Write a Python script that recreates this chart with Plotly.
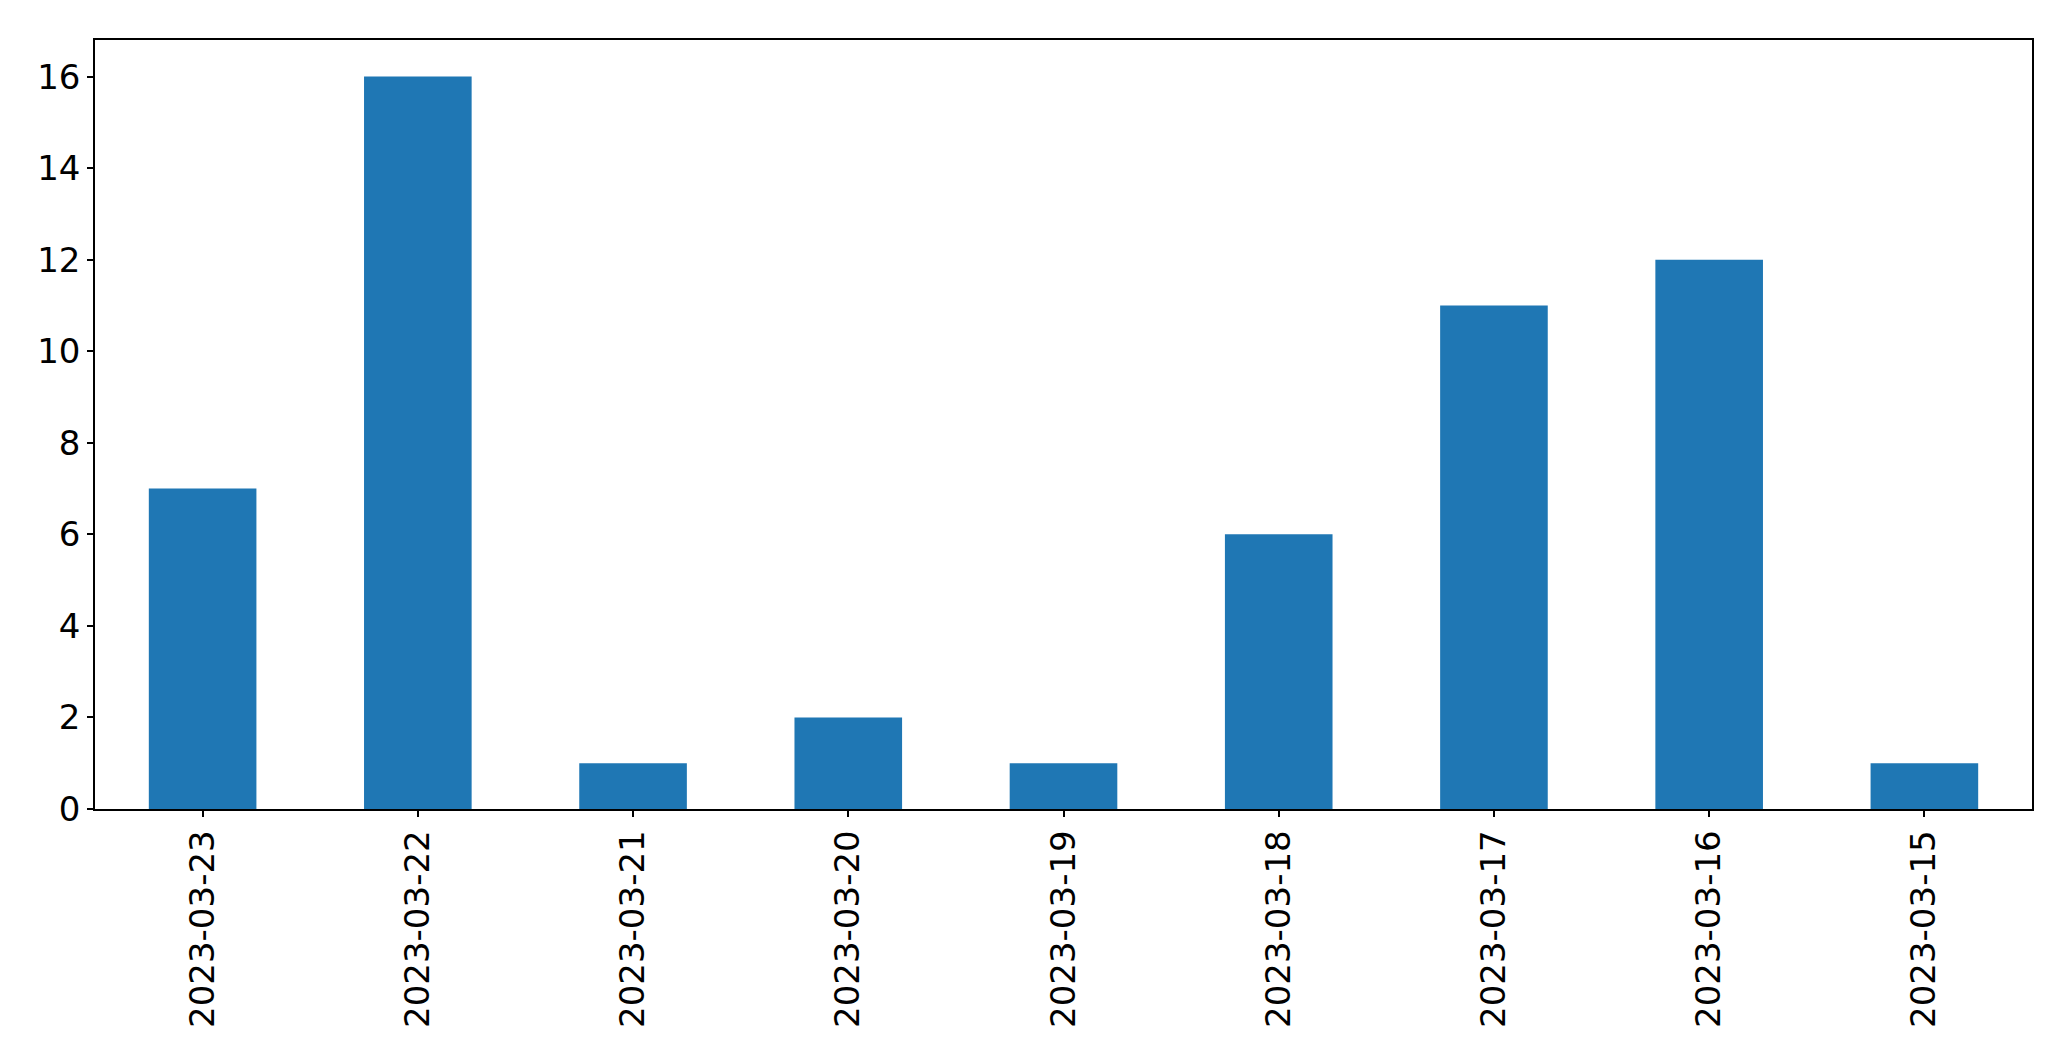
import plotly.graph_objects as go

dates = ["2023-03-23", "2023-03-22", "2023-03-21", "2023-03-20", "2023-03-19",
         "2023-03-18", "2023-03-17", "2023-03-16", "2023-03-15"]
counts = [7, 16, 1, 2, 1, 6, 11, 12, 1]

fig = go.Figure(go.Bar(x=dates, y=counts, marker_color="#1f77b4",
                       marker_line_width=0, width=0.5))

# page body has an 8px default margin; size figure to fill remaining viewport
fig.update_layout(
    width=2063, height=1053,
    margin=dict(l=86.5, r=39, t=31.5, b=252, autoexpand=False),
    plot_bgcolor="white", paper_bgcolor="white",
    font=dict(family="DejaVu Sans", size=34, color="black"),
    showlegend=False,
)
fig.update_xaxes(type="category", range=[-0.5, 8.5], tickangle=-90,
                 showline=True, linecolor="black", linewidth=1.5, mirror=True,
                 ticks="outside", ticklen=6, tickwidth=1.5, tickcolor="black",
                 showgrid=False, ticklabelstandoff=0, automargin=False)
fig.update_yaxes(range=[0, 16.8], dtick=2, tick0=0,
                 showline=True, linecolor="black", linewidth=1.5, mirror=True,
                 ticks="outside", ticklen=6, tickwidth=1.5, tickcolor="black",
                 showgrid=False, zeroline=False, ticklabelstandoff=0, automargin=False)

fig.write_html("out.html")
